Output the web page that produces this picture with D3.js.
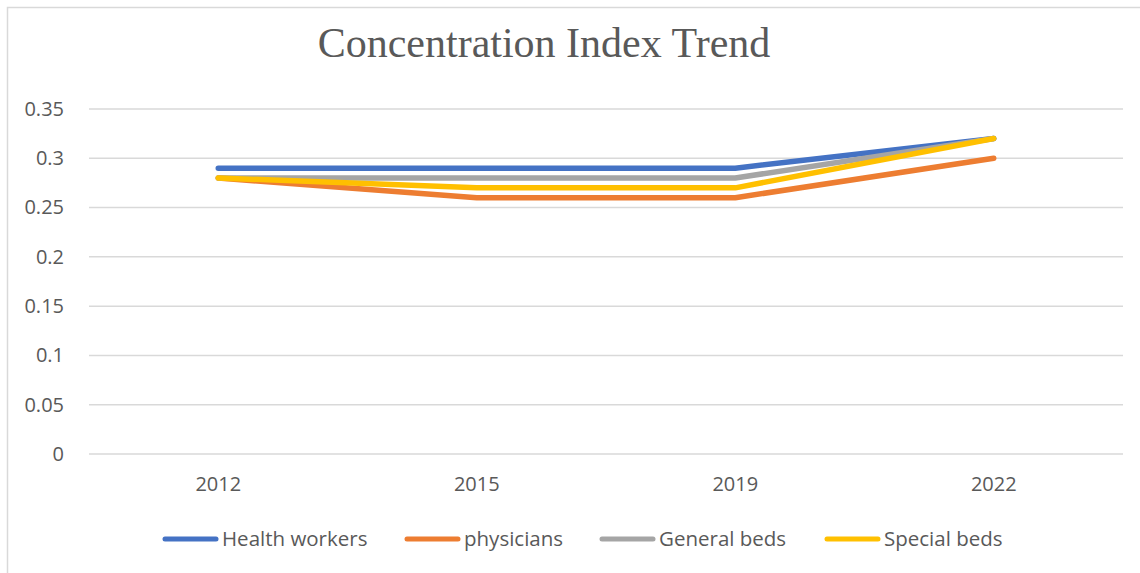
<!DOCTYPE html>
<meta charset="utf-8">
<script src="https://d3js.org/d3.v7.min.js"></script>
<style>
body { margin: 0; background: #fff; }
</style>
<div id="my_dataviz"></div>
<script>

// chart data
var years = ["2012", "2015", "2019", "2022"];
var seriesNames = ["Health workers", "physicians", "General beds", "Special beds"];
var healthWorkers = [0.29, 0.29, 0.29, 0.32];
var physicians = [0.28, 0.26, 0.26, 0.30];
var generalBeds = [0.28, 0.28, 0.28, 0.32];
var specialBeds = [0.28, 0.27, 0.27, 0.32];
var yTicks = [0, 0.05, 0.1, 0.15, 0.2, 0.25, 0.3, 0.35];

var colors = ["#4472c4", "#ed7d31", "#a5a5a5", "#ffc000"];
var series = [healthWorkers, physicians, generalBeds, specialBeds];

var W = 1140, H = 573;
var margin = {top: 109, right: 17, bottom: 119, left: 89},
    width = W - margin.left - margin.right,
    height = H - margin.top - margin.bottom;

var root = d3.select("#my_dataviz")
  .append("svg")
    .attr("width", W)
    .attr("height", H);

// chart area border (left + top visible)
root.append("path")
  .attr("d", "M7.5," + H + "V7.5H" + W)
  .attr("fill", "none")
  .attr("stroke", "#d9d9d9")
  .attr("stroke-width", 1.5);

// title
root.append("text")
  .attr("x", 544)
  .attr("y", 57)
  .attr("text-anchor", "middle")
  .attr("font-family", "Liberation Serif, serif")
  .style("font-size", "42px")
  .attr("fill", "#595959")
  .text("Concentration Index Trend");

var svg = root.append("g")
  .attr("transform", "translate(" + margin.left + "," + margin.top + ")");

var x = d3.scaleBand()
  .domain(years)
  .range([0, width]);

var y = d3.scaleLinear()
  .domain([0, 0.35])
  .range([height, 0]);

// gridlines
svg.append("g")
  .selectAll("line")
  .data(yTicks)
  .enter()
  .append("line")
    .attr("x1", 0)
    .attr("x2", width)
    .attr("y1", function(d) { return y(d); })
    .attr("y2", function(d) { return y(d); })
    .attr("stroke", "#d9d9d9")
    .attr("stroke-width", 1.5);

// Y axis labels
var yAxis = svg.append("g")
  .attr("transform", "translate(-22,0)")
  .call(d3.axisLeft(y).tickValues(yTicks).tickSize(0).tickFormat(function(d) { return String(+d.toFixed(2)); }));
yAxis.select(".domain").remove();
yAxis.selectAll("text")
  .attr("font-family", "Open Sans, sans-serif")
  .style("font-size", "20px")
  .attr("fill", "#595959");

// X axis labels
var xAxis = svg.append("g")
  .attr("transform", "translate(0," + (height + 20) + ")")
  .call(d3.axisBottom(x).tickSize(0));
xAxis.select(".domain").remove();
xAxis.selectAll("text")
  .attr("font-family", "Open Sans, sans-serif")
  .style("font-size", "20px")
  .attr("fill", "#595959");

// lines
var line = d3.line()
  .x(function(d, i) { return x(years[i]) + x.bandwidth() / 2; })
  .y(function(d) { return y(d); });

svg.selectAll(".series")
  .data(series)
  .enter()
  .append("path")
    .attr("class", "series")
    .attr("d", line)
    .attr("fill", "none")
    .attr("stroke", function(d, i) { return colors[i]; })
    .attr("stroke-width", 5.5)
    .attr("stroke-linecap", "round")
    .attr("stroke-linejoin", "round");

// legend
var legendX = [163, 405, 600, 825];
var legend = root.append("g")
  .selectAll("g")
  .data(seriesNames)
  .enter()
  .append("g")
    .attr("transform", function(d, i) { return "translate(" + legendX[i] + ",539)"; });

legend.append("line")
  .attr("x1", 2)
  .attr("x2", 53)
  .attr("stroke", function(d, i) { return colors[i]; })
  .attr("stroke-width", 5)
  .attr("stroke-linecap", "round");

legend.append("text")
  .attr("x", 59)
  .attr("dy", "0.35em")
  .attr("font-family", "Open Sans, sans-serif")
  .style("font-size", "20.5px")
  .attr("fill", "#595959")
  .text(function(d) { return d; });

</script>
